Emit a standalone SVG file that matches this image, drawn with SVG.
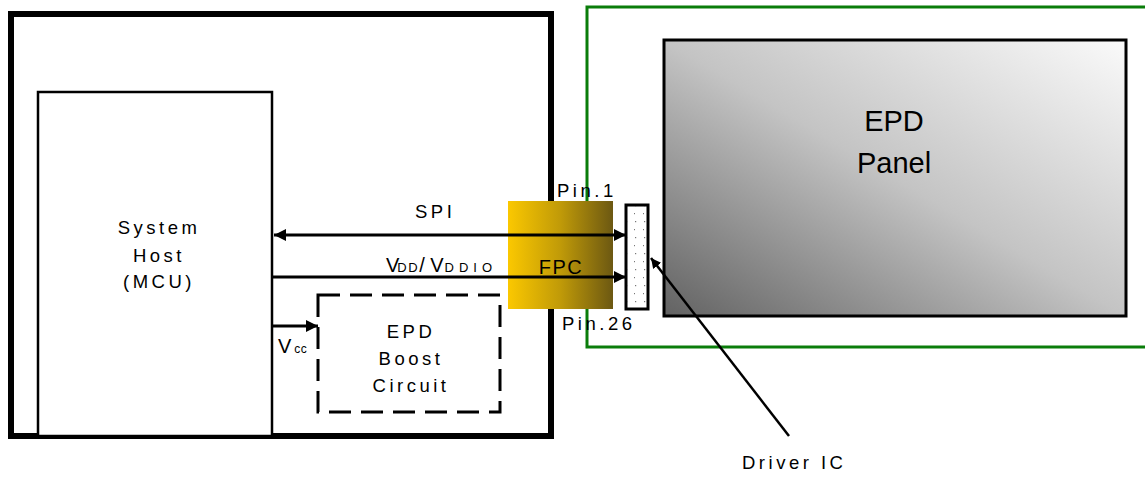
<svg xmlns="http://www.w3.org/2000/svg" width="1145" height="477" viewBox="0 0 1145 477">
<defs>
<linearGradient id="panelGrad" x1="0" y1="1" x2="1" y2="0">
<stop offset="0" stop-color="#626262"/>
<stop offset="0.5" stop-color="#c4c4c4"/>
<stop offset="1" stop-color="#fafafa"/>
</linearGradient>
<linearGradient id="fpcGrad" x1="0" y1="0" x2="1" y2="0">
<stop offset="0" stop-color="#fbc800"/>
<stop offset="0.5" stop-color="#c09a08"/>
<stop offset="1" stop-color="#6c5812"/>
</linearGradient>
<pattern id="dots" x="626" y="205" width="9" height="16" patternUnits="userSpaceOnUse">
<rect x="0" y="0" width="9" height="16" fill="#fff"/>
<rect x="8" y="8" width="1.2" height="1.2" fill="#777"/>
<rect x="0" y="0" width="1.2" height="1.2" fill="#777"/>
</pattern>
<marker id="arr" viewBox="0 0 10 10" refX="10" refY="5" markerWidth="4" markerHeight="4.4" orient="auto-start-reverse" markerUnits="strokeWidth">
<path d="M0,0 L10,5 L0,10 z" fill="#000"/>
</marker>
</defs>
<style>
text{font-family:"Liberation Sans",Arial,sans-serif;fill:#000}
.lbl{font-size:18.5px;letter-spacing:3.5px}
.big{font-size:29px}
.line{stroke:#000;stroke-width:3;fill:none}
</style>
<g id="host-board">
<rect x="11" y="14" width="540" height="422" fill="#fff" stroke="#000" stroke-width="6"/>
</g>
<g id="epd-module">
<rect x="587" y="7" width="600" height="340" fill="none" stroke="#0a7d0a" stroke-width="3"/>
</g>
<g id="panel">
<rect x="664" y="40" width="462" height="276" fill="url(#panelGrad)" stroke="#000" stroke-width="3"/>
<text class="big" x="894" y="131" text-anchor="middle">EPD</text>
<text class="big" x="894" y="173" text-anchor="middle">Panel</text>
</g>
<g id="system-host">
<rect x="38" y="92" width="234" height="344" fill="#fff" stroke="#000" stroke-width="2.5"/>
<text class="lbl" x="159" y="234" text-anchor="middle">System</text>
<text class="lbl" x="159" y="262" text-anchor="middle">Host</text>
<text class="lbl" x="159" y="288" text-anchor="middle">(MCU)</text>
</g>
<g id="boost">
<rect x="318" y="295" width="182" height="117" fill="none" stroke="#000" stroke-width="3" stroke-dasharray="22 10"/>
<text class="lbl" x="411" y="338" text-anchor="middle">EPD</text>
<text class="lbl" x="411" y="365" text-anchor="middle">Boost</text>
<text class="lbl" x="411" y="392" text-anchor="middle">Circuit</text>
</g>
<g id="fpc">
<rect x="508" y="201" width="105" height="108" fill="url(#fpcGrad)"/>
<text x="561" y="274" text-anchor="middle" font-size="20" letter-spacing="1.5">FPC</text>
<text class="lbl" x="557" y="197">Pin.1</text>
<text class="lbl" x="562" y="330">Pin.26</text>
</g>
<g id="driver-ic">
<rect x="626" y="205" width="22" height="104" fill="url(#dots)" stroke="#000" stroke-width="3"/>
<text class="lbl" x="742" y="469">Driver IC</text>
</g>
<g id="connectors">
<line class="line" x1="274" y1="235" x2="626" y2="235" marker-start="url(#arr)" marker-end="url(#arr)"/>
<line class="line" x1="272" y1="277" x2="626" y2="277" marker-end="url(#arr)"/>
<line class="line" x1="272" y1="326" x2="318" y2="326" marker-end="url(#arr)"/>
<line stroke="#000" stroke-width="2.5" x1="789" y1="436" x2="651" y2="258" marker-end="url(#arr)"/>
<text class="lbl" x="415" y="218">SPI</text>
<text x="386" y="271.5" font-size="20" letter-spacing="0">V<tspan font-size="13" letter-spacing="1.5" dx="-2">DD</tspan>/ V<tspan font-size="13" letter-spacing="5" dx="1">DDIO</tspan></text>
<text x="278" y="353" font-size="20">V<tspan font-size="12" dx="3" letter-spacing="0.5">cc</tspan></text>
</g>
</svg>
